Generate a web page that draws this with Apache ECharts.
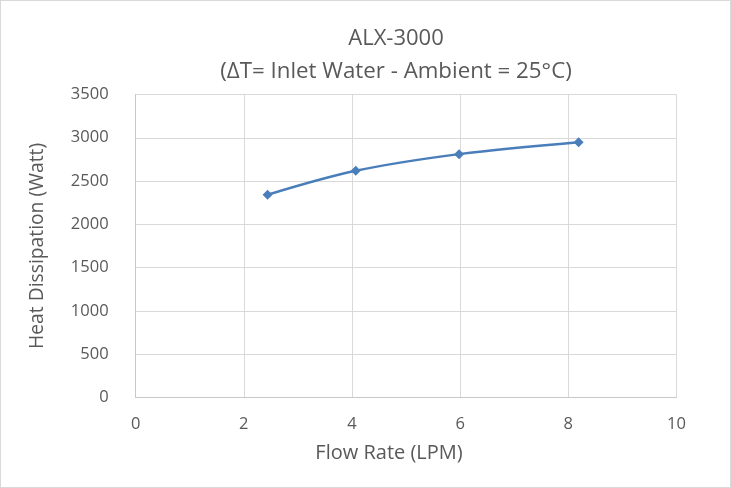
<!DOCTYPE html>
<html>
<head>
<meta charset="utf-8">
<script src="https://cdn.jsdelivr.net/npm/echarts@6/dist/echarts.min.js"></script>
<style>
html,body{margin:0;padding:0;background:#fff;}
#c{width:729px;height:486px;border:1px solid #d9d9d9;}
</style>
</head>
<body>
<div id="c"></div>
<script>
var flowRate = [2.44, 4.07, 5.98, 8.19];
var heatDissipation = [2341, 2618, 2811, 2949];
var titleText = 'ALX-3000';
var subtitleText = '(ΔT= Inlet Water - Ambient = 25°C)';
var xName = 'Flow Rate (LPM)';
var yName = 'Heat Dissipation (Watt)';

var chart = echarts.init(document.getElementById('c'));
var font = '"Open Sans", "Noto Sans", sans-serif';
chart.setOption({
  animation: false,
  title: [{
    text: titleText,
    left: 390, textAlign: 'center',
    top: 22,
    textStyle: {fontFamily: font, fontSize: 22, fontWeight: 'normal', color: '#595959'}
  }, {
    text: subtitleText,
    left: 390, textAlign: 'center',
    top: 55,
    textStyle: {fontFamily: font, fontSize: 22.3, fontWeight: 'normal', color: '#595959'}
  }],
  grid: {left: 134.6, right: 53.5, top: 93.5, bottom: 89.6},
  xAxis: {
    type: 'value', min: 0, max: 10, interval: 2,
    name: xName, nameLocation: 'middle', nameGap: 46,
    nameTextStyle: {fontFamily: font, fontSize: 20, color: '#595959', padding: [0, 34, 0, 0]},
    axisLine: {show: true, lineStyle: {color: '#c8c8c8'}},
    axisTick: {show: false},
    axisLabel: {fontFamily: font, fontSize: 16.5, color: '#595959', margin: 18},
    splitLine: {show: true, lineStyle: {color: '#d9d9d9'}}
  },
  yAxis: {
    type: 'value', min: 0, max: 3500, interval: 500,
    name: yName, nameLocation: 'middle', nameGap: 89,
    nameTextStyle: {fontFamily: font, fontSize: 19.3, color: '#595959'},
    axisLine: {show: true, lineStyle: {color: '#c8c8c8'}},
    axisTick: {show: false},
    axisLabel: {fontFamily: font, fontSize: 16.5, color: '#595959', margin: 27,
      formatter: function (v) { return String(v); }},
    splitLine: {show: true, lineStyle: {color: '#d9d9d9'}}
  },
  series: [{
    type: 'line',
    smooth: 0.35,
    data: flowRate.map(function (x, i) { return [x, heatDissipation[i]]; }),
    symbol: 'diamond',
    symbolSize: 10,
    lineStyle: {color: '#4a7ebb', width: 2.5},
    itemStyle: {color: '#4a7ebb'}
  }]
});
</script>
</body>
</html>
